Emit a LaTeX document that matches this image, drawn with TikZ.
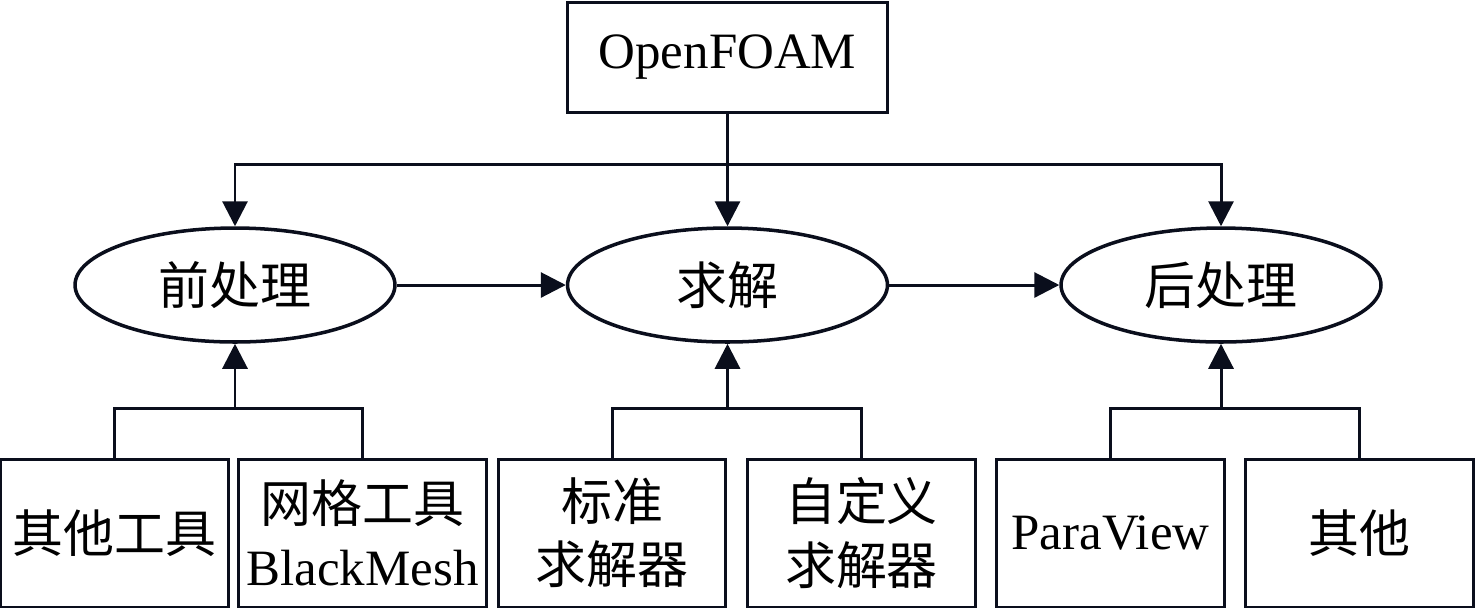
\documentclass[tikz,border=0pt]{standalone}
\usepackage{fontspec}
\setmainfont{Liberation Serif}
\newfontfamily\cjk{Noto Sans CJK SC}
\usepackage{tikz}
\usetikzlibrary{
  arrows.meta,
  positioning,
  shapes.geometric
}
\definecolor{LineNavy}{RGB}{10,14,28}
\tikzset{
  topbox/.style={draw=LineNavy,line width=1.7pt,minimum width=6.42cm,minimum height=2.2cm,inner sep=0pt,align=center,font=\fontsize{29}{36}\selectfont},
  stagenode/.style={ellipse,draw=LineNavy,line width=2pt,minimum width=6.4cm,minimum height=2.28cm,inner sep=0pt,align=center,font=\fontsize{29}{36}\selectfont},
  toolbox/.style={draw=LineNavy,line width=1.7pt,minimum width=4.56cm,minimum height=2.96cm,inner sep=0pt,align=center,font=\fontsize{29}{36}\selectfont},
  link/.style={line width=1.7pt,draw=LineNavy},
  flow/.style={-{Triangle[length=5mm,width=5mm]},line width=1.7pt,draw=LineNavy}
}

\begin{document}
\begin{tikzpicture}[x=0.02cm,y=-0.02cm]
\useasboundingbox (0,0) rectangle (1476,610);

\node[topbox] (foam) at (727.5,57.5) {OpenFOAM};

\node[stagenode] (pre) at (235,285) {\cjk 前处理};
\node[stagenode] (solve) at (727.5,285) {\cjk 求解};
\node[stagenode] (post) at (1221,285) {\cjk 后处理};

\node[toolbox] (other) at (114.5,533) {\cjk 其他工具};
\node[toolbox, minimum width=4.98cm] (mesh) at (362.5,533) {{\cjk 网格工具}\\BlackMesh};
\node[toolbox] (stdsolver) at (612,533) {\cjk 标准\\\cjk 求解器};
\node[toolbox] (usrsolver) at (861.5,533) {\cjk 自定义\\\cjk 求解器};
\node[toolbox] (paraview) at (1110.5,533) {ParaView};
\node[toolbox] (misc) at (1359.5,533) {\cjk 其他};

\coordinate (split) at (727.5,164);
\coordinate (preJoin) at (235,408);
\coordinate (solveJoin) at (727.5,408);
\coordinate (postJoin) at (1221,408);

% OpenFOAM to the three stages
\draw[flow] (foam) -- (solve);
\draw[flow] (split) -| (pre.north);
\draw[flow] (split) -| (post.north);

\draw[flow] (pre) -- (solve);
\draw[flow] (solve) -- (post);

% tools below
\draw[link] (other.north) |- (preJoin) -| (mesh.north);
\draw[flow] (preJoin) -- (pre.south);
\draw[link] (stdsolver.north) |- (solveJoin) -| (usrsolver.north);
\draw[flow] (solveJoin) -- (solve.south);
\draw[link] (paraview.north) |- (postJoin) -| (misc.north);
\draw[flow] (postJoin) -- (post.south);
\end{tikzpicture}
\end{document}
